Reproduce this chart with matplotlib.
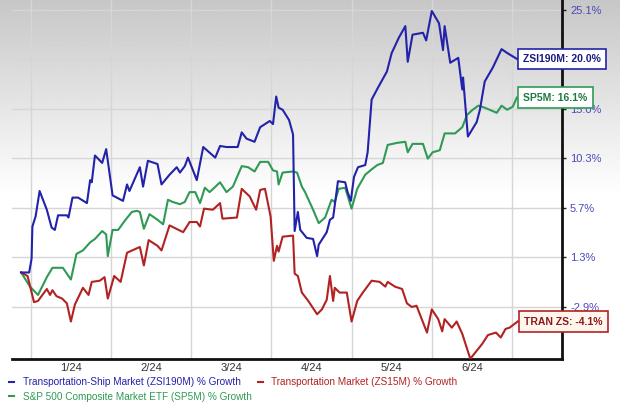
import numpy as np
import matplotlib.pyplot as plt
from matplotlib.ticker import FixedLocator, NullLocator

plt.rcParams['font.family'] = ['Liberation Sans', 'DejaVu Sans']

# x = months since 1 Jan 2024 (1.0 = 1 Feb, 2.0 = 1 Mar ...), y = % growth
zsi_x = [-0.12, -0.02, 0.01, 0.02, 0.06, 0.11, 0.20, 0.26, 0.30, 0.34, 0.45, 0.47, 0.52, 0.59,
         0.70, 0.74, 0.76, 0.80, 0.89, 0.94, 1.02, 1.15, 1.20, 1.23, 1.36, 1.40, 1.46, 1.58,
         1.63, 1.73, 1.82, 1.86, 1.92, 1.96, 2.07, 2.15, 2.30, 2.36, 2.44, 2.58, 2.63, 2.69,
         2.79, 2.86, 2.98, 3.02, 3.06, 3.09, 3.14, 3.22, 3.27, 3.29, 3.33, 3.36, 3.44, 3.52,
         3.57, 3.59, 3.69, 3.73, 3.77, 3.83, 3.92, 3.95, 3.99, 4.03, 4.08, 4.17, 4.20, 4.25,
         4.33, 4.44, 4.50, 4.59, 4.67, 4.70, 4.76, 4.89, 4.93, 5.00, 5.09, 5.14, 5.16, 5.23,
         5.33, 5.38, 5.39, 5.45, 5.56, 5.60, 5.66, 5.76, 5.87, 5.94, 6.06]
zsi_y = [0.0, 0.0, 1.2, 4.0, 4.9, 7.2, 5.5, 3.9, 3.7, 5.0, 5.0, 4.8, 6.6, 6.6,
         6.1, 8.2, 8.0, 10.5, 9.8, 11.1, 6.8, 6.3, 7.8, 7.2, 9.4, 7.6, 10.0, 9.7,
         7.8, 8.7, 9.4, 8.9, 9.5, 10.3, 8.2, 11.3, 10.3, 11.4, 11.3, 11.3, 12.7, 12.1,
         11.8, 13.2, 13.8, 13.5, 16.2, 15.1, 14.9, 13.9, 12.5, 3.6, 5.3, 3.7, 3.0, 2.9,
         1.4, 2.4, 3.5, 4.6, 4.8, 8.1, 8.0, 7.1, 6.3, 8.5, 9.4, 9.6, 10.8, 15.9,
         17.1, 18.7, 20.6, 22.2, 23.4, 19.7, 22.5, 22.7, 21.9, 25.0, 23.7, 20.9, 23.4, 19.6,
         20.1, 16.9, 18.1, 12.3, 13.7, 14.9, 17.7, 19.1, 21.0, 20.6, 20.0]

sp5_x = [-0.12, -0.01, 0.09, 0.20, 0.27, 0.40, 0.50, 0.57, 0.65, 0.74, 0.80, 0.89, 0.94, 0.96,
         1.02, 1.09, 1.17, 1.26, 1.32, 1.36, 1.41, 1.48, 1.58, 1.65, 1.71, 1.77, 1.86, 1.92,
         1.98, 2.05, 2.11, 2.17, 2.23, 2.36, 2.44, 2.52, 2.63, 2.71, 2.79, 2.86, 2.96, 3.02,
         3.07, 3.09, 3.14, 3.27, 3.32, 3.38, 3.42, 3.52, 3.59, 3.67, 3.75, 3.79, 3.84, 3.92,
         4.00, 4.07, 4.17, 4.25, 4.32, 4.39, 4.45, 4.57, 4.67, 4.70, 4.76, 4.89, 4.95, 5.01,
         5.10, 5.16, 5.29, 5.38, 5.44, 5.51, 5.58, 5.66, 5.81, 5.87, 5.94, 6.01, 6.06]
sp5_y = [0.0, -1.2, -1.9, -0.4, 0.4, 0.4, -0.6, 1.6, 1.9, 2.6, 2.9, 3.6, 3.3, 1.4,
         3.7, 3.7, 4.5, 5.3, 5.4, 5.3, 3.8, 5.1, 4.6, 4.2, 6.4, 6.2, 6.0, 6.2,
         7.1, 7.1, 6.1, 7.5, 7.1, 8.0, 7.1, 7.6, 9.5, 9.4, 9.0, 9.9, 9.9, 9.1,
         9.0, 7.8, 8.9, 9.0, 8.9, 7.6, 7.1, 5.5, 4.3, 4.8, 6.4, 6.2, 7.4, 7.5,
         5.6, 7.4, 8.7, 9.2, 9.6, 9.8, 11.5, 11.7, 11.8, 10.8, 11.6, 11.6, 10.2, 10.8,
         11.0, 12.6, 12.6, 13.2, 14.4, 14.9, 15.3, 15.1, 14.6, 15.3, 14.9, 15.2, 16.1]

tran_x = [-0.12, -0.04, 0.04, 0.09, 0.20, 0.24, 0.27, 0.32, 0.39, 0.45, 0.50, 0.55, 0.65, 0.72,
          0.76, 0.86, 0.92, 0.96, 1.04, 1.12, 1.20, 1.36, 1.41, 1.47, 1.58, 1.63, 1.73, 1.90,
          1.98, 2.07, 2.11, 2.16, 2.27, 2.36, 2.39, 2.57, 2.63, 2.73, 2.81, 2.86, 2.92, 2.99,
          3.03, 3.07, 3.09, 3.14, 3.27, 3.29, 3.33, 3.38, 3.46, 3.57, 3.63, 3.69, 3.73, 3.77,
          3.79, 3.85, 3.94, 4.00, 4.07, 4.14, 4.25, 4.35, 4.42, 4.45, 4.54, 4.63, 4.69, 4.75,
          4.81, 4.94, 5.00, 5.08, 5.13, 5.16, 5.25, 5.31, 5.38, 5.48, 5.63, 5.70, 5.80, 5.86,
          5.92, 5.97, 6.07]
tran_y = [0.0, -0.3, -2.5, -2.4, -1.4, -1.9, -1.5, -2.0, -2.2, -2.6, -4.1, -2.7, -1.3, -1.9,
          -0.8, -0.7, -0.4, -2.2, -0.3, -0.8, 1.7, 2.2, 0.6, 2.8, 2.3, 1.9, 4.1, 3.5,
          4.4, 4.4, 4.0, 5.6, 5.5, 6.1, 4.7, 4.8, 7.4, 6.7, 5.5, 7.3, 7.4, 4.9,
          1.0, 2.3, 1.8, 3.1, 3.2, -0.1, -0.3, -1.7, -2.4, -3.5, -3.1, -2.3, -0.3, -2.4,
          -1.3, -1.7, -1.7, -4.1, -2.4, -1.7, -0.7, -0.8, -1.2, -0.8, -1.2, -1.4, -2.6, -2.9,
          -2.8, -5.0, -3.1, -3.9, -4.9, -3.9, -4.6, -4.1, -5.1, -7.1, -5.9, -5.2, -5.0, -5.4,
          -4.7, -4.6, -4.1]

month_labels = ['1/24', '2/24', '3/24', '4/24', '5/24', '6/24']
ytick_vals = [-2.9, 1.3, 5.7, 10.3, 15.0, 19.9, 25.1]
ytick_labels = ['-2.9%', '1.3%', '5.7%', '10.3%', '15.0%', '', '25.1%']  # 19.9% hidden behind tag

BLUE = '#2222aa'
RED = '#b22222'
GREEN = '#2f9a55'


def growth(v):
    return 1 + np.asarray(v) / 100.0


fig = plt.figure(figsize=(6.2, 4.13), dpi=100)

# grey-to-white background gradient over the whole picture
bg = fig.add_axes([0, 0, 1, 1], zorder=-10)
shade = np.clip(np.linspace(0.0, 1.0, 300) / 0.47, 0, 1)
col = 0.78 + 0.22 * shade
bg.imshow(np.repeat(col[:, None], 2, axis=1), cmap='gray', vmin=0, vmax=1,
          aspect='auto', extent=[0, 1, 0, 1], origin='upper')
bg.axis('off')

ax = fig.add_axes([0.019, 0.131, 0.887, 0.869])
ax.patch.set_alpha(0)

l_zsi, = ax.plot(zsi_x, growth(zsi_y), color=BLUE, lw=1.5, zorder=4,
                 label='Transportation-Ship Market (ZSI190M) % Growth')
l_sp5, = ax.plot(sp5_x, growth(sp5_y), color=GREEN, lw=1.5, zorder=3,
                 label='S&P 500 Composite Market ETF (SP5M) % Growth')
l_tran, = ax.plot(tran_x, growth(tran_y), color=RED, lw=1.5, zorder=3,
                  label='Transportation Market (ZS15M) % Growth')

ax.set_yscale('log')
ax.set_ylim(0.9289, 1.2618)
ax.set_xlim(-0.237, 6.62)

ax.yaxis.tick_right()
ax.yaxis.set_major_locator(FixedLocator(growth(ytick_vals)))
ax.yaxis.set_minor_locator(NullLocator())
ax.set_yticklabels(ytick_labels)
ax.tick_params(axis='y', direction='out', length=3, width=1, color='#222222',
               labelcolor='#4a4ab8', labelsize=8, pad=3)

ax.set_xticks(range(0, 7))
ax.set_xticklabels([])
ax.set_xticks([m + 0.5 for m in range(6)], minor=True)
ax.set_xticklabels(month_labels, minor=True)
ax.tick_params(axis='x', which='both', length=0, labelsize=8, labelcolor='#333333', pad=3)

ax.grid(True, which='major', color='#d6d6d6', lw=1)
ax.set_axisbelow(True)

for s in ['top', 'left']:
    ax.spines[s].set_visible(False)
for s in ['right', 'bottom']:
    ax.spines[s].set_color('#111111')
    ax.spines[s].set_linewidth(2)

# end-of-line value tags
tags = [(zsi_x, zsi_y, 'ZSI190M', BLUE, '#1a1a80', 'white'),
        (sp5_x, sp5_y, 'SP5M', GREEN, '#1f7a40', 'white'),
        (tran_x, tran_y, 'TRAN ZS', RED, '#8b1a1a', '#fff6ee')]
for xs, ys, name, edge, txt, face in tags:
    ax.annotate(f'{name}: {ys[-1]:.1f}%', xy=(xs[-1], growth(ys[-1])),
                xytext=(4.5, 0), textcoords='offset points', ha='left', va='center',
                fontsize=7.5, fontweight='bold', color=txt, zorder=6, annotation_clip=False,
                bbox=dict(boxstyle='square,pad=0.5', fc=face, ec=edge, lw=1.2))

fig.legend(handles=[l_zsi, l_sp5, l_tran], loc='upper left', bbox_to_anchor=(0.012, 0.092),
           ncol=2, frameon=False, fontsize=7.2, labelcolor='linecolor',
           handlelength=0.5, handletextpad=0.85, columnspacing=0.6,
           labelspacing=0.45, borderaxespad=0, borderpad=0.2)

fig.savefig('out.png', dpi=100)
